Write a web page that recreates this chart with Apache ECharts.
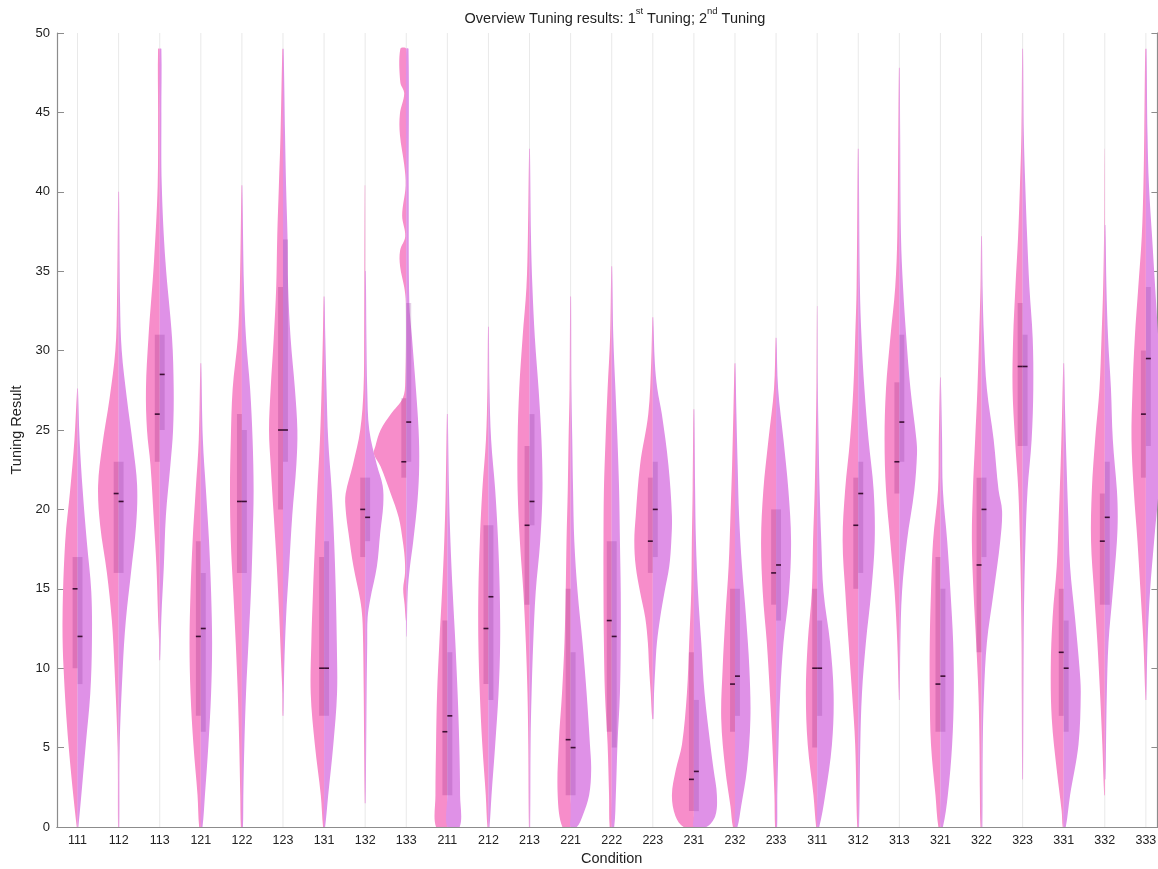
<!DOCTYPE html>
<html>
<head>
<meta charset="utf-8">
<script src="https://cdn.jsdelivr.net/npm/echarts@6/dist/echarts.min.js"></script>
<style>
html, body { margin: 0; padding: 0; background: #fff; }
#chart { width: 1158px; height: 869px; }
</style>
</head>
<body>
<div id="chart"></div>
<script>
// conditions
var categories = ['111','112','113','121','122','123','131','132','133',
                  '211','212','213','221','222','223','231','232','233',
                  '311','312','313','321','322','323','331','332','333'];

var yTicks = [0, 5, 10, 15, 20, 25, 30, 35, 40, 45, 50];

// 1st tuning (left half): [value, relative density]
var firstDensity = [
  [[0,0.04],[5.2,0.44],[10,0.68],[13.2,0.73],[18,0.6],[21.2,0.36],[24.4,0.15],[27.6,0.02]],
  [[0,0.03],[5,0.05],[10,0.2],[13,0.33],[16,0.57],[19,0.9],[21.5,1.0],[24,0.8],[27,0.44],[30,0.16],[33,0.08],[40,0.02]],
  [[10.5,0.02],[11.6,0.03],[13.2,0.08],[16.4,0.16],[19.6,0.3],[22.8,0.45],[25,0.62],[27.6,0.67],[30.8,0.55],[35.6,0.28],[40.4,0.1],[45,0.08],[49,0.08]],
  [[0,0.08],[2,0.16],[5.2,0.36],[8.4,0.5],[11.6,0.55],[14.8,0.5],[18,0.4],[21.2,0.25],[24.4,0.1],[29.2,0.02]],
  [[0,0.05],[2,0.08],[5.2,0.13],[8.4,0.2],[11.6,0.3],[14.8,0.42],[18,0.54],[21.2,0.58],[24.4,0.54],[27.6,0.45],[30.8,0.2],[34,0.1],[40.4,0.02]],
  [[7,0.02],[8.4,0.03],[10,0.08],[13.2,0.18],[16.4,0.3],[19.6,0.45],[22.8,0.6],[25,0.68],[27.6,0.6],[30.8,0.45],[34,0.33],[37.2,0.28],[40.4,0.2],[43.6,0.12],[49,0.03]],
  [[0,0.05],[2,0.16],[5.2,0.45],[8.4,0.65],[11.6,0.62],[14.8,0.54],[18,0.44],[21.2,0.33],[24.4,0.2],[27.6,0.12],[30.8,0.06],[33.4,0.02]],
  [[1.5,0.02],[5.2,0.05],[8.4,0.07],[11.6,0.1],[13.2,0.14],[14.3,0.24],[16.4,0.57],[18.5,0.81],[20,0.95],[21,0.95],[22.8,0.6],[25,0.24],[27.6,0.08],[30.8,0.05],[40.4,0.02]],
  [[13,0.02],[14,0.08],[15,0.15],[16,0.06],[17,0.08],[18,0.17],[19.5,0.37],[21,0.76],[22.7,1.25],[23.5,1.58],[24,1.5],[25,1.25],[26,0.75],[27,0.17],[28,0.05],[33,0.02],[34,0.1],[35.3,0.3],[36.3,0.3],[37.2,0.05],[38.5,0.2],[40.4,0.03],[41.7,0.1],[43.6,0.31],[44.9,0.31],[46.2,0.1],[46.9,0.29],[49,0.29]],
  [[0,0.55],[2,0.58],[5.2,0.55],[8.4,0.5],[11.6,0.39],[14.8,0.26],[18,0.15],[21.2,0.08],[26,0.02]],
  [[0,0.05],[2,0.13],[5.2,0.3],[8.4,0.42],[11.6,0.49],[14.8,0.49],[18,0.42],[21.2,0.3],[24.4,0.12],[27.6,0.05],[31.5,0.02]],
  [[0,0.03],[5.2,0.06],[8.4,0.1],[11.6,0.18],[14.8,0.3],[18,0.47],[21.2,0.58],[24.4,0.58],[27.6,0.5],[30.8,0.34],[34,0.15],[37.2,0.08],[42.7,0.02]],
  [[0,0.4],[2,0.63],[5.2,0.58],[8.4,0.42],[11.6,0.3],[14.8,0.24],[18,0.2],[21.2,0.14],[24.4,0.1],[27.6,0.05],[33.4,0.02]],
  [[0,0.1],[2,0.13],[5.2,0.2],[8.4,0.33],[11.6,0.38],[14.8,0.4],[18,0.4],[21.2,0.38],[24.4,0.3],[27.6,0.2],[30.8,0.08],[35.3,0.02]],
  [[6.8,0.03],[8.4,0.1],[10,0.18],[11.6,0.24],[13.2,0.37],[14.8,0.62],[16.4,0.83],[18,0.9],[19.6,0.83],[22.8,0.62],[26,0.22],[29.2,0.08],[32.1,0.02]],
  [[0,0.5],[0.7,0.9],[2,1.07],[3.6,0.88],[5.2,0.58],[8.4,0.34],[11.6,0.23],[14.8,0.13],[18,0.1],[21.2,0.06],[26.3,0.02]],
  [[0,0.1],[1.3,0.22],[3.6,0.47],[6.8,0.67],[10,0.6],[13.2,0.47],[16.4,0.31],[19.6,0.22],[22.8,0.14],[26,0.08],[29.2,0.02]],
  [[0,0.05],[2,0.08],[5.2,0.18],[8.4,0.3],[11.6,0.45],[14.8,0.65],[18,0.73],[21.2,0.62],[24.4,0.37],[27.6,0.1],[30.8,0.02]],
  [[0,0.05],[2,0.18],[5.2,0.46],[8.4,0.55],[11.6,0.46],[14.8,0.26],[18,0.2],[21.2,0.12],[24.4,0.07],[28,0.03],[32.8,0.01]],
  [[0,0.05],[5.2,0.15],[8.4,0.3],[11.6,0.47],[14.8,0.63],[18,0.76],[21.2,0.64],[24.4,0.4],[27.6,0.24],[30.8,0.15],[34,0.08],[42.7,0.02]],
  [[8,0.02],[11.6,0.1],[14.8,0.23],[18,0.44],[21.2,0.65],[24.4,0.72],[27.6,0.65],[30.8,0.44],[34,0.2],[37.2,0.1],[43.6,0.05],[47.8,0.02]],
  [[0,0.1],[2,0.24],[5.2,0.46],[8.4,0.52],[11.6,0.52],[14.8,0.46],[18,0.36],[21.2,0.12],[24.4,0.08],[28.3,0.02]],
  [[0,0.05],[2,0.08],[5.2,0.1],[8.4,0.15],[11.6,0.26],[14.8,0.39],[18,0.47],[21.2,0.42],[24.4,0.31],[27.6,0.2],[30.8,0.12],[34,0.05],[37.2,0.02]],
  [[3,0.02],[8,0.04],[11.6,0.05],[14.8,0.08],[18,0.13],[21.2,0.21],[24.4,0.37],[27.6,0.49],[30.8,0.46],[34,0.35],[37.2,0.22],[40.4,0.13],[43.6,0.06],[49,0.02]],
  [[0,0.05],[1,0.1],[3.6,0.34],[6.8,0.58],[10,0.63],[13.2,0.54],[16.4,0.34],[19.6,0.24],[22.8,0.15],[26,0.08],[29.2,0.02]],
  [[2,0.03],[5.2,0.12],[8.4,0.23],[11.6,0.36],[14.8,0.52],[18,0.67],[21.2,0.63],[24.4,0.47],[27.6,0.26],[30.8,0.16],[34,0.08],[37.9,0.03],[42.7,0.01]],
  [[8,0.02],[11.6,0.12],[14.8,0.26],[18,0.41],[21.2,0.59],[24.4,0.7],[27.6,0.65],[30.8,0.54],[34,0.37],[37.2,0.2],[40.4,0.12],[43.6,0.08],[49,0.03]]
];

// 2nd tuning (right half)
var secondDensity = [
  [[0,0.04],[5.2,0.4],[8.4,0.62],[11.6,0.7],[14.8,0.67],[18,0.45],[21.2,0.25],[24.4,0.1],[27.6,0.02]],
  [[0,0.03],[5,0.05],[10,0.2],[13,0.35],[16,0.6],[19,0.85],[21.5,0.9],[24,0.7],[27,0.4],[30,0.15],[33,0.07],[40,0.02]],
  [[10.5,0.02],[13.2,0.08],[16.4,0.2],[19.6,0.3],[22.8,0.52],[25,0.65],[27.6,0.68],[30.8,0.6],[35.6,0.28],[40.4,0.1],[45,0.08],[49,0.08]],
  [[0,0.08],[2,0.2],[5.2,0.37],[8.4,0.5],[11.6,0.55],[14.8,0.5],[18,0.4],[21.2,0.25],[24.4,0.1],[29.2,0.02]],
  [[0,0.05],[2,0.07],[5.2,0.12],[8.4,0.2],[11.6,0.32],[14.8,0.44],[18,0.52],[21.2,0.57],[24.4,0.52],[27.6,0.4],[30.8,0.2],[34,0.1],[40.4,0.02]],
  [[7,0.02],[10,0.06],[13.2,0.15],[16.4,0.3],[19.6,0.45],[22.8,0.65],[25,0.7],[27.6,0.58],[30.8,0.37],[34,0.25],[37.2,0.22],[40.4,0.15],[43.6,0.1],[49,0.03]],
  [[0,0.05],[2,0.2],[5.2,0.45],[8.4,0.63],[11.6,0.62],[14.8,0.57],[18,0.49],[21.2,0.37],[24.4,0.2],[27.6,0.12],[30.8,0.06],[33.4,0.02]],
  [[1.5,0.02],[5.2,0.05],[8.4,0.07],[11.6,0.1],[13.2,0.12],[14.3,0.24],[16.4,0.57],[18.5,0.73],[20.3,0.88],[21.5,0.85],[22.8,0.57],[25,0.2],[27.6,0.1],[30.8,0.06],[35,0.03]],
  [[12,0.02],[14.8,0.07],[16.4,0.18],[18,0.34],[20.6,0.55],[22.8,0.63],[25,0.6],[27.6,0.47],[30.8,0.28],[33,0.15],[40,0.12],[49,0.11]],
  [[0,0.6],[2,0.62],[5.2,0.58],[8.4,0.5],[11.6,0.39],[14.8,0.26],[18,0.15],[21.2,0.08],[26,0.02]],
  [[0,0.05],[2,0.15],[5.2,0.33],[8.4,0.49],[11.6,0.57],[14.8,0.55],[18,0.47],[21.2,0.33],[24.4,0.13],[27.6,0.05],[31.5,0.02]],
  [[0,0.03],[5.2,0.05],[8.4,0.1],[11.6,0.18],[14.8,0.3],[18,0.52],[21.2,0.63],[24.4,0.58],[27.6,0.44],[30.8,0.26],[34,0.14],[37.2,0.07],[42.7,0.02]],
  [[0,0.3],[0.7,0.58],[2,0.9],[3.6,1.0],[5.2,0.94],[8.4,0.78],[11.6,0.58],[14.8,0.34],[18,0.18],[21.2,0.12],[24.4,0.08],[27.6,0.04],[33.4,0.02]],
  [[0,0.12],[2,0.2],[5.2,0.28],[8.4,0.4],[11.6,0.44],[14.8,0.44],[18,0.4],[21.2,0.36],[24.4,0.28],[27.6,0.18],[30.8,0.08],[35.3,0.02]],
  [[6.8,0.03],[8.4,0.06],[10,0.12],[11.6,0.2],[13.2,0.36],[14.8,0.57],[16.4,0.8],[18,0.9],[19.6,0.93],[22.8,0.76],[26,0.44],[27.6,0.22],[29.2,0.1],[32.1,0.02]],
  [[0,0.6],[0.7,1.04],[2,1.12],[3.6,0.96],[5.2,0.8],[8.4,0.52],[11.6,0.36],[14.8,0.2],[18,0.1],[21.2,0.06],[26.3,0.02]],
  [[0,0.12],[1.3,0.3],[3.6,0.58],[6.8,0.75],[10,0.7],[13.2,0.54],[16.4,0.34],[19.6,0.2],[22.8,0.13],[26,0.07],[29.2,0.02]],
  [[0,0.05],[2,0.06],[5.2,0.12],[8.4,0.2],[11.6,0.36],[14.8,0.63],[18,0.73],[21.2,0.6],[24.4,0.36],[27.6,0.1],[30.8,0.02]],
  [[0,0.1],[2,0.39],[5.2,0.72],[8.4,0.8],[11.6,0.63],[14.8,0.31],[18,0.2],[21.2,0.12],[24.4,0.07],[28,0.03],[32.8,0.01]],
  [[0,0.04],[5.2,0.1],[8.4,0.18],[11.6,0.37],[14.8,0.63],[18,0.8],[21.2,0.75],[24.4,0.5],[27.6,0.3],[30.8,0.16],[34,0.08],[42.7,0.02]],
  [[8,0.02],[11.6,0.05],[14.8,0.13],[18,0.37],[21.2,0.73],[23.5,0.86],[24.4,0.83],[27.6,0.54],[30.8,0.34],[34,0.18],[37.2,0.08],[43.6,0.04],[47.8,0.02]],
  [[0,0.12],[2,0.36],[5.2,0.57],[8.4,0.65],[11.6,0.62],[14.8,0.49],[18,0.33],[21.2,0.12],[24.4,0.08],[28.3,0.02]],
  [[0,0.04],[5.2,0.06],[8.4,0.12],[11.6,0.26],[14.8,0.59],[18,0.91],[19.9,1.0],[21.2,0.83],[24.4,0.59],[27.6,0.26],[30.8,0.12],[34,0.05],[37.2,0.02]],
  [[3,0.02],[11.6,0.05],[14.8,0.08],[18,0.14],[21.2,0.24],[24.4,0.44],[27.6,0.52],[30.8,0.49],[34,0.33],[37.2,0.22],[40.4,0.13],[43.6,0.06],[49,0.02]],
  [[0,0.1],[2,0.31],[5.2,0.72],[8.4,0.83],[10,0.77],[13.2,0.55],[16.4,0.31],[19.6,0.22],[22.8,0.14],[26,0.07],[29.2,0.02]],
  [[3,0.03],[5.2,0.06],[8.4,0.1],[11.6,0.18],[14.8,0.39],[18,0.59],[19.6,0.63],[21.2,0.59],[24.4,0.39],[27.6,0.3],[30.8,0.16],[34,0.08],[37.9,0.03]],
  [[8,0.02],[11.6,0.08],[14.8,0.2],[18,0.4],[21.2,0.62],[24.4,0.75],[27.6,0.72],[30.8,0.6],[34,0.45],[37.2,0.3],[40.4,0.15],[43.6,0.08],[49,0.03]]
];

// quartiles [q1, q3] and medians
var firstBox = [[10,17],[16,23],[23,31],[7,18],[16,26],[20,34],[7,17],[17,22],[22,27],
                [2,13],[9,19],[14,24],[2,15],[6,18],[16,22],[1,11],[6,15],[14,20],
                [5,15],[15,22],[21,28],[6,17],[11,22],[24,33],[7,15],[14,21],[22,30]];
var secondBox = [[9,17],[16,23],[25,31],[6,16],[16,25],[23,37],[7,18],[18,22],[23,33],
                 [2,11],[8,19],[19,26],[2,11],[5,18],[17,23],[1,8],[7,15],[13,20],
                 [7,13],[16,23],[23,31],[6,15],[17,22],[24,31],[6,13],[14,23],[24,34]];
var firstMedian = [15,21,26,12,20.5,25,10,20,23, 6,12.5,19,5.5,13,18,3,9,16, 10,19,23,9,16.5,29,11,18,26];
var secondMedian = [12,20.5,28.5,12.5,20.5,25,10,19.5,25.5, 7,14.5,20.5,5,12,20,3.5,9.5,16.5, 10,21,25.5,9.5,20,29,10,19.5,29.5];

var chart = echarts.init(document.getElementById('chart'));

var axisGray = '#8c8c8c';
var font = 'Liberation Sans, Arial, sans-serif';

function halfViolin(api, i, prof, side, color) {
    var half = api.size([1, 0])[0] / 2;
    var cx = api.coord([i, 0])[0];
    var pts = [];
    for (var k = 0; k < prof.length; k++) {
        var p = api.coord([i, prof[k][0]]);
        pts.push([cx + side * prof[k][1] * half, p[1]]);
    }
    for (var k = prof.length - 1; k >= 0; k--) {
        pts.push([cx, api.coord([i, prof[k][0]])[1]]);
    }
    return {
        type: 'polygon',
        shape: { points: pts, smooth: 0.35 },
        style: { fill: color, stroke: null }
    };
}

function boxPart(api, i, box, med, side, boxColor) {
    var band = api.size([1, 0])[0];
    var bw = band * 0.12;
    var cx = api.coord([i, 0])[0];
    var top = api.coord([i, box[1]])[1];
    var bot = api.coord([i, box[0]])[1];
    var my = api.coord([i, med])[1];
    var x0 = side < 0 ? cx - bw : cx;
    return [
        { type: 'rect', shape: { x: x0, y: top, width: bw, height: bot - top },
          style: { fill: boxColor } },
        { type: 'line', shape: { x1: x0, y1: my, x2: x0 + bw, y2: my },
          style: { stroke: '#3d0f33', lineWidth: 1.6 } }
    ];
}

var idx = [];
for (var i = 0; i < categories.length; i++) idx.push(i);

var option = {
    backgroundColor: '#fff',
    animation: false,
    title: {
        text: '{n|Overview Tuning results: 1}{s|st}{n| Tuning; 2}{s|nd}{n| Tuning}',
        left: 610,
        top: 1,
        textAlign: 'center',
        textStyle: {
            fontWeight: 'normal',
            rich: {
                n: { fontSize: 14.5, fontWeight: 'normal', fontFamily: font, color: '#222', lineHeight: 20, verticalAlign: 'bottom' },
                s: { fontSize: 9.5, fontWeight: 'normal', fontFamily: font, color: '#222', lineHeight: 20, verticalAlign: 'top' }
            }
        }
    },
    grid: {
        left: 57,
        top: 33,
        width: 27 * 41.09,
        height: 794,
        containLabel: false,
        outerBoundsMode: 'none'
    },
    xAxis: [
        {
            type: 'category',
            data: categories,
            position: 'bottom',
            name: 'Condition',
            nameLocation: 'middle',
            nameGap: 22,
            nameTextStyle: { fontSize: 14.5, fontFamily: font, color: '#222' },
            axisLine: { lineStyle: { color: axisGray, width: 1.2 } },
            axisTick: { inside: true, alignWithLabel: true, length: 7, lineStyle: { color: axisGray } },
            axisLabel: { interval: 0, margin: 7, fontSize: 12.5, fontFamily: font, color: '#222' },
            splitLine: { show: false }
        },
        {
            type: 'category',
            data: categories,
            position: 'top',
            axisLine: { lineStyle: { color: axisGray, width: 1.2 } },
            axisTick: { inside: true, alignWithLabel: true, length: 7, lineStyle: { color: axisGray } },
            axisLabel: { show: false },
            splitLine: { show: false }
        }
    ],
    yAxis: [
        {
            type: 'value',
            min: yTicks[0],
            max: yTicks[yTicks.length - 1],
            interval: 5,
            position: 'left',
            name: 'Tuning Result',
            nameLocation: 'middle',
            nameGap: 30,
            nameTextStyle: { fontSize: 14.5, fontFamily: font, color: '#222' },
            axisLine: { show: true, lineStyle: { color: axisGray, width: 1.2 } },
            axisTick: { show: true, inside: true, length: 7, lineStyle: { color: axisGray } },
            axisLabel: { margin: 7, fontSize: 13, fontFamily: font, color: '#222' },
            splitLine: { show: false }
        },
        {
            type: 'value',
            min: yTicks[0],
            max: yTicks[yTicks.length - 1],
            interval: 5,
            position: 'right',
            offset: -9,
            axisLine: { show: true, lineStyle: { color: axisGray, width: 1.2 } },
            axisTick: { show: true, inside: true, length: 6, lineStyle: { color: axisGray } },
            axisLabel: { show: false },
            splitLine: { show: false }
        }
    ],
    series: [
        {
            // faint center lines
            type: 'custom',
            xAxisIndex: 0,
            yAxisIndex: 0,
            data: idx,
            silent: true,
            renderItem: function (params, api) {
                var i = api.value(0);
                var a = api.coord([i, yTicks[0]]);
                var b = api.coord([i, yTicks[yTicks.length - 1]]);
                return { type: 'line', shape: { x1: a[0], y1: a[1], x2: b[0], y2: b[1] },
                         style: { stroke: '#e9e9e9', lineWidth: 1 } };
            }
        },
        {
            name: 'violin',
            type: 'custom',
            xAxisIndex: 0,
            yAxisIndex: 0,
            data: idx,
            clip: true,
            renderItem: function (params, api) {
                var i = api.value(0);
                var children = [];
                children.push(halfViolin(api, i, firstDensity[i], -1, '#f78dca'));
                children.push(halfViolin(api, i, secondDensity[i], 1, '#df91e7'));
                children = children.concat(boxPart(api, i, firstBox[i], firstMedian[i], -1, 'rgba(150,40,130,0.26)'));
                children = children.concat(boxPart(api, i, secondBox[i], secondMedian[i], 1, 'rgba(130,40,140,0.22)'));
                return { type: 'group', children: children };
            }
        }
    ]
};

chart.setOption(option);
</script>
</body>
</html>
